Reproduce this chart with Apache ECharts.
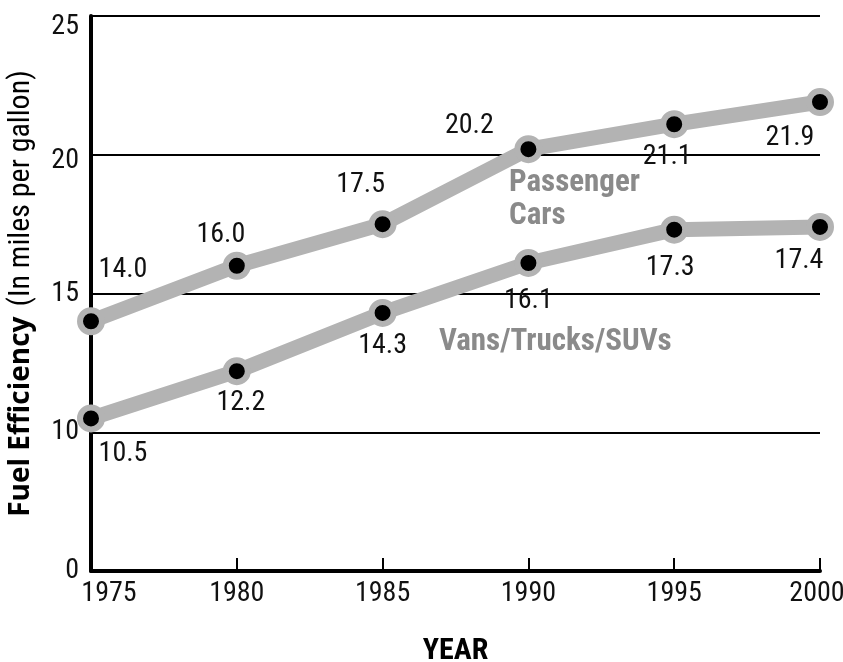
<!DOCTYPE html>
<html>
<head>
<meta charset="utf-8">
<script src="https://cdn.jsdelivr.net/npm/echarts@6/dist/echarts.min.js"></script>
<style>
  html, body { margin: 0; padding: 0; background: #fff; }
  #chart { width: 843px; height: 662px; }
</style>
</head>
<body>
<div id="chart"></div>
<script>
const years = ["1975", "1980", "1985", "1990", "1995", "2000"];
const passengerCars = [14.0, 16.0, 17.5, 20.2, 21.1, 21.9];
const vansTrucksSuvs = [10.5, 12.2, 14.3, 16.1, 17.3, 17.4];
// axis is broken: the bottom tick (5) is printed as "0"
const yTickLabels = { 5: "0", 10: "10", 15: "15", 20: "20", 25: "25" };

// label offsets from each point (px)
const carLabelOffsets = [[32, -51], [-16, -31], [-22, -39], [-59, -23], [-7, 33], [-30, 36]];
const vanLabelOffsets = [[32, 36], [4, 32], [0, 33], [0, 38], [-4, 38], [-21, 34]];

const FONT = '"Roboto Condensed", "DejaVu Sans Condensed", sans-serif';
const TITLE_FONT = '"Open Sans", "Roboto Condensed", sans-serif';
const GRAY = "#b3b3b3";
const LABEL_GRAY = "#8a8a8a";

const withLabels = (vals, offsets) =>
  vals.map((v, i) => ({
    value: v,
    label: { show: true, position: "inside", offset: offsets[i], formatter: v.toFixed(1) },
  }));

const lineSeries = (name, vals, offsets) => ({
  name,
  type: "line",
  data: withLabels(vals, offsets),
  symbol: "circle",
  symbolSize: 22,
  lineStyle: { color: GRAY, width: 15 },
  itemStyle: { color: "#000", borderColor: GRAY, borderWidth: 6 },
  label: { color: "#111", fontFamily: FONT, fontSize: 28 },
  emphasis: { disabled: true },
  z: 5,
});

const tickText = { color: "#111", fontFamily: FONT, fontSize: 28 };

const chart = echarts.init(document.getElementById("chart"), null, { renderer: "canvas" });
chart.setOption({
  animation: false,
  backgroundColor: "#fff",
  grid: { left: 91, right: 23, top: 16, bottom: 91, outerBoundsMode: "none", containLabel: false },
  xAxis: {
    type: "category",
    data: years,
    boundaryGap: false,
    name: "YEAR",
    nameLocation: "middle",
    nameGap: 65,
    nameTextStyle: { color: "#000", fontFamily: FONT, fontSize: 30, fontWeight: "bold" },
    axisLine: { lineStyle: { color: "#000", width: 4 } },
    axisTick: { inside: true, length: 13, interval: 0, lineStyle: { color: "#000", width: 2 } },
    axisLabel: {
      ...tickText,
      interval: 0,
      hideOverlap: false,
      margin: 9,
      // first label sits right of the y axis, last one tucked in
      formatter: (v, i) => (i === 0 ? "{first|" + v + "}" : i === years.length - 1 ? "{last|" + v + "}" : v),
      rich: {
        first: { ...tickText, padding: [0, 0, 0, 36] },
        last: { ...tickText, padding: [0, 6, 0, 0] },
      },
    },
  },
  yAxis: {
    type: "value",
    min: 5,
    max: 25,
    interval: 5,
    name: "{b|Fuel Efficiency}{n|(In miles per gallon)}",
    nameLocation: "middle",
    nameRotate: 90,
    nameGap: 55,
    nameTextStyle: {
      rich: {
        b: { color: "#000", fontFamily: TITLE_FONT, fontSize: 28, fontWeight: "bold" },
        n: { color: "#000", fontFamily: FONT, fontSize: 30, padding: [0, 0, 0, 10] },
      },
    },
    axisLine: { show: true, lineStyle: { color: "#000", width: 4 } },
    axisTick: { show: false },
    axisLabel: {
      ...tickText,
      margin: 12,
      // top two labels sit a little below their lines
      formatter: (v) => (v === 25 ? "{low|25}" : v === 20 ? "{mid|20}" : yTickLabels[v] ?? ""),
      rich: {
        low: { ...tickText, padding: [22, 0, 0, 0] },
        mid: { ...tickText, padding: [12, 0, 0, 0] },
      },
    },
    splitLine: {
      show: true,
      lineStyle: { color: ["transparent", "#000", "#000", "#000", "#000"], width: 2 },
    },
  },
  graphic: [
    {
      type: "text",
      left: 509,
      top: 167,
      style: {
        text: "Passenger\nCars",
        fill: LABEL_GRAY,
        font: "bold 31px " + FONT,
        lineHeight: 33,
      },
    },
    {
      type: "text",
      left: 439,
      top: 327,
      style: { text: "Vans/Trucks/SUVs", fill: LABEL_GRAY, font: "bold 31px " + FONT },
    },
  ],
  series: [
    lineSeries("Passenger Cars", passengerCars, carLabelOffsets),
    lineSeries("Vans/Trucks/SUVs", vansTrucksSuvs, vanLabelOffsets),
  ],
});
</script>
</body>
</html>
